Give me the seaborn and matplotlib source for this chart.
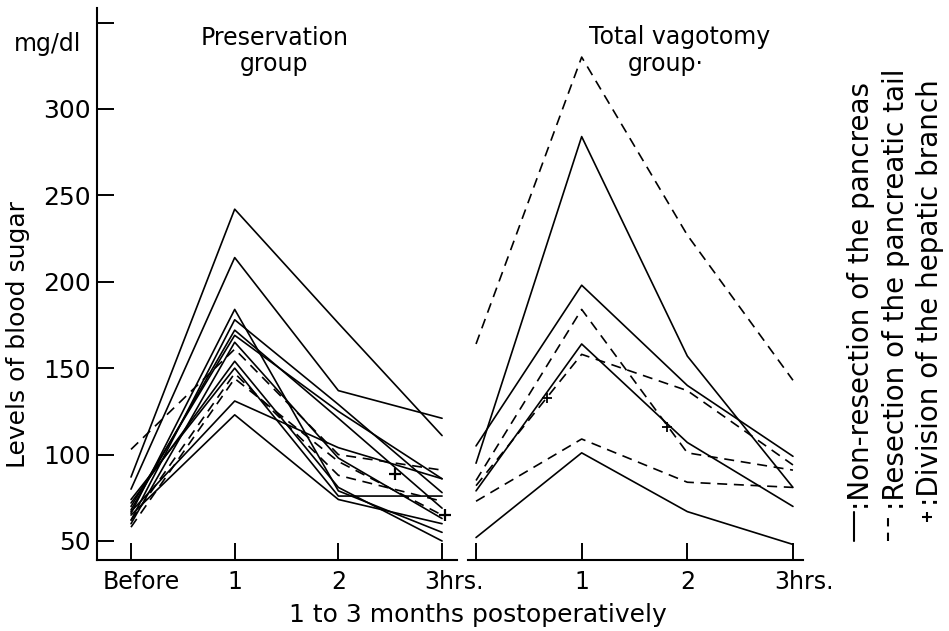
import matplotlib
matplotlib.use("Agg")
import matplotlib.pyplot as plt
import matplotlib.transforms as mtransforms
from matplotlib.lines import Line2D
import pandas as pd
import seaborn as sns

# ---- data -------------------------------------------------------------
times = [0, 1, 2, 3]
left_tick_labels = ["Before", "1", "2", "3hrs."]
right_tick_labels = ["", "1", "2", "3hrs."]
y_ticks = [50, 100, 150, 200, 250, 300, 350]
y_tick_labels = ["50", "100", "150", "200", "250", "300", ""]

# Preservation group: blood sugar (mg/dl) before, 1, 2, 3 hrs
pres_values = [
    [87, 242, 176, 111],
    [80, 214, 137, 121],
    [66, 184, 79, 55],
    [62, 178, 129, 78],
    [68, 172, 121, 69],
    [70, 169, 125, 86],
    [60, 165, 98, 63],
    [103, 161, 100, 91],
    [72, 154, 81, 50],
    [74, 150, 76, 76],
    [62, 147, 88, 73],
    [58, 144, 96, 65],
    [67, 131, 104, 86],
    [65, 123, 74, 60],
]
pres_kind = ["solid", "solid", "solid", "solid", "solid", "solid", "solid",
             "dashed", "solid", "solid", "dashed", "dashed", "solid", "solid"]

# Total vagotomy group
vag_values = [
    [164, 330, 227, 143],
    [95, 284, 157, 81],
    [105, 198, 140, 99],
    [85, 184, 101, 91],
    [82, 158, 137, 94],
    [73, 109, 84, 81],
    [79, 164, 107, 70],
    [52, 101, 67, 48],
]
vag_kind = ["dashed", "solid", "solid", "dashed", "dashed", "dashed", "solid", "solid"]

# hepatic branch division marks (time, mg/dl)
pres_plus_t = [2.55, 3.03]
pres_plus_v = [89, 65]
vag_plus_t = [0.67, 1.81]
vag_plus_v = [133, 116]

legend_texts = [":Non-resection of the pancreas",
                ":Resection of the pancreatic tail",
                ":Division of the hepatic branch"]


def long_form(values, kinds):
    rows = []
    for i, (vals, kind) in enumerate(zip(values, kinds)):
        for t, v in zip(times, vals):
            rows.append({"case": i, "t": t, "v": v, "kind": kind})
    return pd.DataFrame(rows)


df_pres = long_form(pres_values, pres_kind)
df_vag = long_form(vag_values, vag_kind)

# ---- figure -----------------------------------------------------------
sns.set_style("ticks")
plt.rcParams["font.family"] = ["DejaVu Sans"]
plt.rcParams["text.color"] = "black"

W, H = 949, 631
fig = plt.figure(figsize=(W / 100, H / 100), dpi=100)


def fx(px):
    return px / W


def fy(py):
    return 1 - py / H


ax_l = fig.add_axes([fx(97), fy(560), fx(457) - fx(97), fy(8) - fy(560)])
ax_r = fig.add_axes([fx(468), fy(560), fx(803) - fx(468), fy(8) - fy(560)])

dash_map = {"solid": "", "dashed": (6, 4)}
for ax, df in ((ax_l, df_pres), (ax_r, df_vag)):
    sns.lineplot(data=df, x="t", y="v", units="case", estimator=None,
                 style="kind", dashes=dash_map, color="black", linewidth=1.2,
                 legend=False, sort=False, ax=ax)

sns.scatterplot(x=pres_plus_t, y=pres_plus_v, marker="+", s=70, color="black",
                linewidth=1.6, ax=ax_l)
sns.scatterplot(x=vag_plus_t, y=vag_plus_v, marker="+", s=45, color="black",
                linewidth=1.3, ax=ax_r)

ylim = (39.0, 358.4)
ax_l.set_xlim(-0.328, 3.144)
ax_r.set_xlim(-0.076, 3.095)
for ax in (ax_l, ax_r):
    ax.set_ylim(*ylim)
    ax.set_xlabel("")
    ax.set_ylabel("")
    ax.set_xticks(times)
    ax.tick_params(axis="both", direction="in", length=12, width=1.4,
                   colors="black")
    ax.tick_params(axis="x", labelsize=17, pad=7.5)
    for sp in ax.spines.values():
        sp.set_linewidth(1.5)
        sp.set_color("black")

sns.despine(ax=ax_l)
sns.despine(ax=ax_r, left=True)

ax_l.set_yticks(y_ticks)
ax_l.set_yticklabels(y_tick_labels)
ax_l.tick_params(axis="y", labelsize=18, pad=4.5)
ax_r.set_yticks([])

ax_l.set_xticklabels(left_tick_labels)
ax_r.set_xticklabels(right_tick_labels)


def shift(label, dx_px):
    off = mtransforms.ScaledTranslation(dx_px / 100, 0, fig.dpi_scale_trans)
    label.set_transform(label.get_transform() + off)


lt = ax_l.get_xticklabels()
shift(lt[0], 10)
shift(lt[3], 12)
rt = ax_r.get_xticklabels()
shift(rt[3], 11)

# ---- text -------------------------------------------------------------
fig.text(fx(48), fy(50.7), "mg/dl", ha="center", va="baseline", fontsize=17)
fig.text(fx(18), fy(334), "Levels of blood sugar", rotation=90,
         ha="center", va="center", fontsize=18)
fig.text(fx(275), fy(45), "Preservation", ha="center", va="baseline", fontsize=17)
fig.text(fx(274), fy(71), "group", ha="center", va="baseline", fontsize=17)
fig.text(fx(680), fy(44), "Total vagotomy", ha="center", va="baseline", fontsize=17)
fig.text(fx(666), fy(71), "group·", ha="center", va="baseline", fontsize=17)
fig.text(fx(478), fy(622), "1 to 3 months postoperatively", ha="center",
         va="baseline", fontsize=18)

# ---- key (rotated) ----------------------------------------------------
fig.add_artist(Line2D([fx(854), fx(854)], [fy(541), fy(512)], color="black",
                      linewidth=1.5))
fig.add_artist(Line2D([fx(888), fx(888)], [fy(541), fy(512)], color="black",
                      linewidth=1.5, dashes=(4, 3)))
fig.add_artist(Line2D([fx(927)], [fy(517)], marker="+", markersize=7,
                      markeredgewidth=1.5, color="black", linestyle="none"))
for xc, ys, txt in zip((861, 896, 930), (510, 510, 506), legend_texts):
    fig.text(fx(xc), fy(ys), txt, rotation=90, ha="center", va="bottom",
             fontsize=20)

fig.savefig("out.png", dpi=100)
